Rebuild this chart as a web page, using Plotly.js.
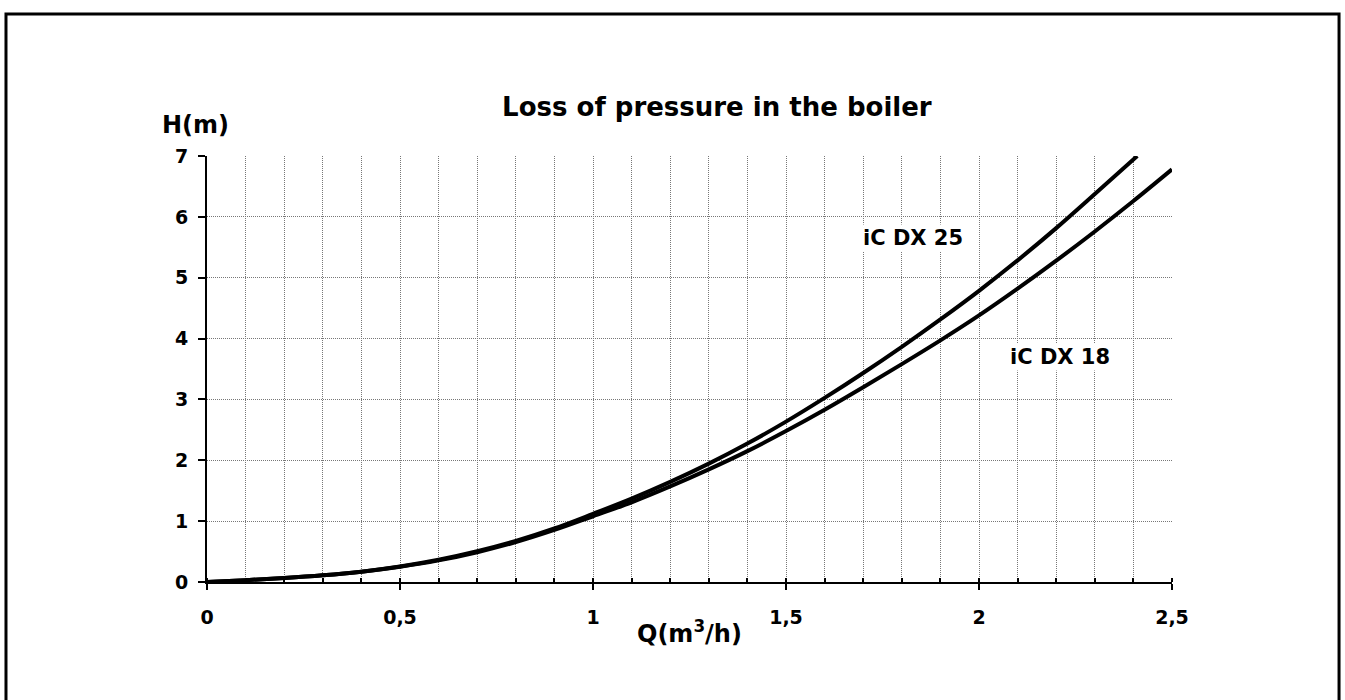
<!DOCTYPE html>
<html>
<head>
<meta charset="utf-8">
<script src="https://cdn.plot.ly/plotly-3.0.1.min.js"></script>
<style>html,body{margin:0;padding:0;background:#fff;}#chart{width:1345px;height:700px;}</style>
</head>
<body>
<div id="chart"></div>
<script>
// Data
const flowQ25 = [0,0.1,0.2,0.3,0.4,0.5,0.6,0.7,0.8,0.9,1.0,1.1,1.2,1.3,1.4,1.5,1.6,1.7,1.8,1.9,2.0,2.1,2.2,2.3,2.41];
const headDX25 = [0,0.03,0.065,0.11,0.17,0.255,0.365,0.505,0.675,0.88,1.12,1.37,1.645,1.945,2.275,2.635,3.025,3.435,3.865,4.315,4.785,5.285,5.815,6.375,7.0];
const flowQ18 = [0,0.1,0.2,0.3,0.4,0.5,0.6,0.7,0.8,0.9,1.0,1.1,1.2,1.3,1.4,1.5,1.6,1.7,1.8,1.9,2.0,2.1,2.2,2.3,2.4,2.5];
const headDX18 = [0,0.03,0.065,0.11,0.17,0.25,0.355,0.49,0.655,0.855,1.08,1.31,1.57,1.85,2.15,2.48,2.83,3.2,3.58,3.97,4.38,4.82,5.28,5.76,6.26,6.78];
const seriesNames = ["iC DX 25", "iC DX 18"];
const labelPos = [[1.83, 5.65], [2.21, 3.70]];
const xTickVals = [0,0.5,1,1.5,2,2.5];
const xTickText = ["0","0,5","1","1,5","2","2,5"];

const FONT = "DejaVu Sans, Verdana, sans-serif";

const traces = [
  {x: flowQ25, y: headDX25, name: seriesNames[0], mode: "lines",
   line: {color: "#000", width: 4, shape: "spline", smoothing: 1}},
  {x: flowQ18, y: headDX18, name: seriesNames[1], mode: "lines",
   line: {color: "#000", width: 4, shape: "spline", smoothing: 1}}
];

const layout = {
  width: 1345, height: 700,
  margin: {l: 207, r: 173, t: 156, b: 118},
  paper_bgcolor: "#fff", plot_bgcolor: "#fff",
  showlegend: false,
  font: {family: FONT, color: "#000", size: 18, weight: "bold"},
  title: {text: "<b>Loss of pressure in the boiler</b>", x: 0.533, xref: "container", xanchor: "center",
          y: 0.847, yref: "container", yanchor: "middle",
          font: {family: FONT, size: 26, color: "#000"}},
  xaxis: {
    range: [0, 2.5], autorange: false, fixedrange: true,
    tickmode: "array", tickvals: xTickVals, ticktext: xTickText,
    ticks: "outside", ticklen: 6, tickwidth: 2, tickcolor: "#000",
    ticklabelstandoff: 11,
    tickfont: {family: FONT, size: 19, color: "#000", weight: "bold"},
    showline: true, linecolor: "#000", linewidth: 2,
    showgrid: true, gridcolor: "#777", griddash: "1px,1px", gridwidth: 1,
    zeroline: false,
    minor: {dtick: 0.1, tick0: 0, ticks: "inside", ticklen: 4, tickwidth: 2, tickcolor: "#000",
            showgrid: true, gridcolor: "#777", griddash: "1px,1px", gridwidth: 1}
  },
  yaxis: {
    range: [0, 7], autorange: false, fixedrange: true,
    dtick: 1, tick0: 0,
    ticks: "outside", ticklen: 7, tickwidth: 2, tickcolor: "#000",
    ticklabelstandoff: 6,
    tickfont: {family: FONT, size: 19, color: "#000", weight: "bold"},
    showline: true, linecolor: "#000", linewidth: 2,
    showgrid: true, gridcolor: "#777", griddash: "1px,1px", gridwidth: 1,
    zeroline: false
  },
  annotations: [
    {text: "<b>H(m)</b>", xref: "paper", yref: "paper", x: -0.0114, y: 1.073,
     xanchor: "center", yanchor: "middle", showarrow: false,
     font: {family: FONT, size: 24, color: "#000"}},
    {text: "<b>Q(m<sup>3</sup>/h)</b>", xref: "paper", yref: "paper", x: 0.5, y: -0.117,
     xanchor: "center", yanchor: "middle", showarrow: false,
     font: {family: FONT, size: 24, color: "#000"}},
    {text: "<b>" + seriesNames[0] + "</b>", x: labelPos[0][0], y: labelPos[0][1],
     xanchor: "center", yanchor: "middle", showarrow: false, bgcolor: "#fff",
     font: {family: FONT, size: 21, color: "#000"}},
    {text: "<b>" + seriesNames[1] + "</b>", x: labelPos[1][0], y: labelPos[1][1],
     xanchor: "center", yanchor: "middle", showarrow: false, bgcolor: "#fff",
     font: {family: FONT, size: 21, color: "#000"}}
  ],
  shapes: [
    {type: "rect", xref: "paper", yref: "paper", x0: -0.2083, x1: 1.1731, y0: -0.2817, y1: 1.3333,
     line: {color: "#000", width: 3}, fillcolor: "rgba(0,0,0,0)", layer: "below"}
  ]
};

Plotly.newPlot("chart", traces, layout, {displayModeBar: false, staticPlot: true});
</script>
</body>
</html>
